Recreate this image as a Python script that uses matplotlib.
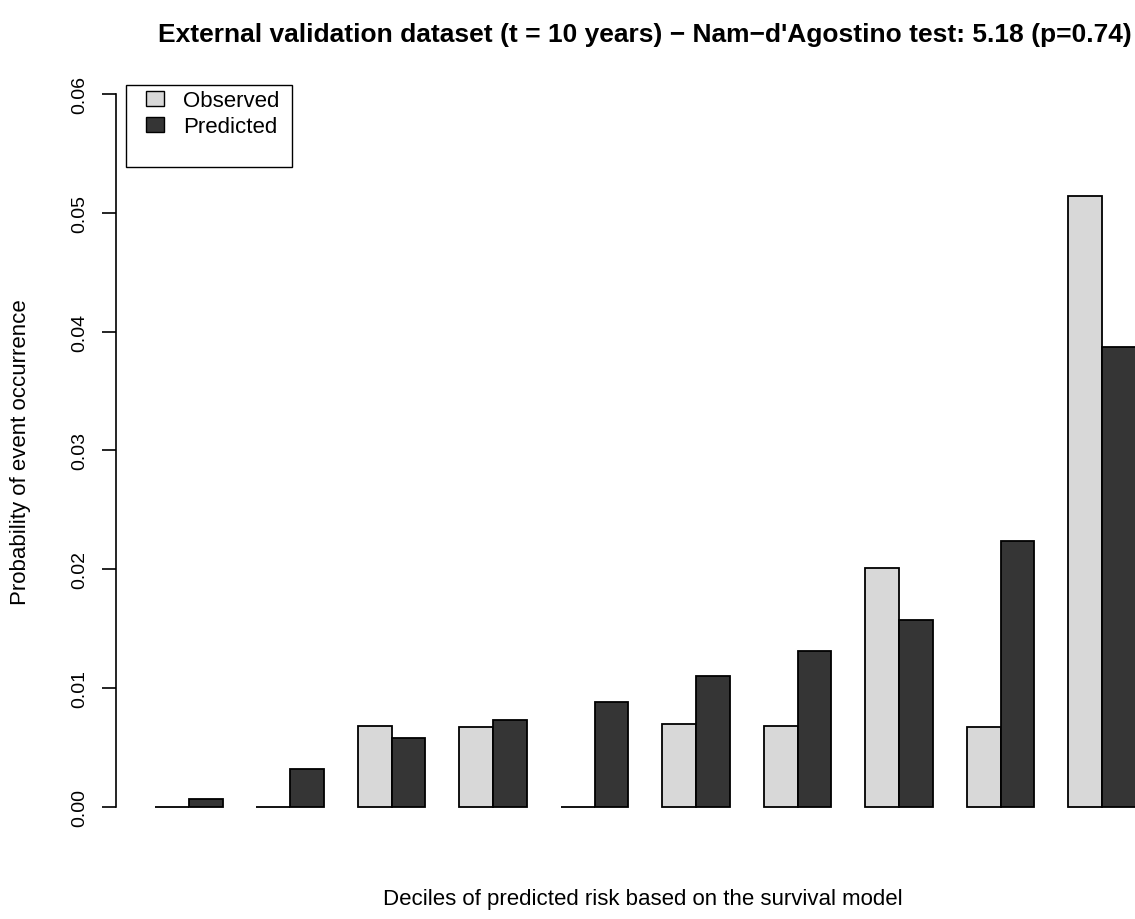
import numpy as np
import matplotlib
matplotlib.use('Agg')
from matplotlib import pyplot as plt
from matplotlib.patches import Rectangle

#%% DATA

deciles = np.arange(1, 11)
observed = [0.0, 0.0, 0.0068, 0.0067, 0.0, 0.0070, 0.0068, 0.0201, 0.0067, 0.0514]
predicted = [0.00067, 0.0032, 0.0058, 0.0073, 0.0088, 0.0110, 0.0131, 0.0157, 0.0224, 0.0387]
yticks = [0.00, 0.01, 0.02, 0.03, 0.04, 0.05, 0.06]
ytick_labels = ['0.00', '0.01', '0.02', '0.03', '0.04', '0.05', '0.06']

title = "External validation dataset (t = 10 years) \u2212 Nam\u2212d'Agostino test: 5.18 (p=0.74)"
xlab = 'Deciles of predicted risk based on the survival model'
ylab = 'Probability of event occurrence'

#%% PLOT

plt.rcParams['font.family'] = ['Liberation Sans', 'DejaVu Sans']

W, H = 1135, 920
fig = plt.figure(figsize=(W / 100, H / 100), dpi=100)
# R barplot layout: bars at 1..30 units, plot region wider than the cropped image
ax = fig.add_axes([0.1019, 0.0908, 0.9334, 0.837])

# beside=TRUE : groups of 2 bars, 1 unit gap before each group
left_obs = 1 + 3 * (deciles - 1)
left_pred = left_obs + 1

ax.bar(left_obs, observed, width=1, align='edge', color='#d8d8d8',
       edgecolor='black', linewidth=1.3, label='Observed')
ax.bar(left_pred, predicted, width=1, align='edge', color='#353535',
       edgecolor='black', linewidth=1.3, label='Predicted')

ax.set_xlim(-0.16, 31.16)
ax.set_ylim(-0.0024, 0.0624)

for s in ['top', 'right', 'bottom']:
    ax.spines[s].set_visible(False)
ax.spines['left'].set_bounds(0, 0.06)
ax.spines['left'].set_linewidth(1.2)

ax.set_xticks([])
ax.set_yticks(yticks)
ax.set_yticklabels(ytick_labels, rotation=90, va='center', fontsize=14)
ax.tick_params(axis='y', length=10, width=1.2, pad=10)

fig.text(645 / W, 1 - 35 / H, title, ha='center', va='center', fontsize=19, fontweight='bold')
fig.text(21 / W, 1 - 452 / H, ylab, rotation=90, ha='center', va='center', fontsize=16)
fig.text(643 / W, 1 - 900 / H, xlab, ha='center', va='center', fontsize=16)

# legend (frame drawn separately, R leaves extra space at the bottom)
leg = ax.legend(loc='upper left', bbox_to_anchor=(146 / W, 1 - 91 / H),
                bbox_transform=fig.transFigure, fontsize=16, frameon=False,
                handlelength=0.81, handleheight=0.68, handletextpad=0.86,
                borderpad=0, labelspacing=0.24, borderaxespad=0)
for p in leg.get_patches():
    p.set_linewidth(1.0)
fig.patches.append(Rectangle((125.7 / W, 1 - 167.7 / H), 166 / W, 82 / H,
                             transform=fig.transFigure, fill=False,
                             edgecolor='black', linewidth=1.0))

fig.savefig('out.png', dpi=100)
